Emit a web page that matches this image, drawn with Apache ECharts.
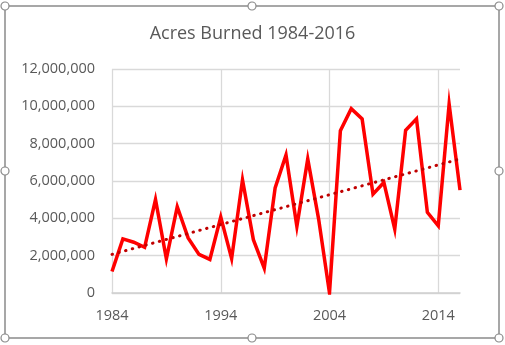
<!DOCTYPE html>
<html>
<head>
<meta charset="utf-8">
<script src="https://cdn.jsdelivr.net/npm/echarts@6/dist/echarts.min.js"></script>
<style>
html,body{margin:0;padding:0;background:#fff;}
#chart{width:505px;height:345px;}
</style>
</head>
<body>
<div id="chart"></div>
<script>
const years = ['1984','1985','1986','1987','1988','1989','1990','1991','1992','1993','1994','1995','1996','1997','1998','1999','2000','2001','2002','2003','2004','2005','2006','2007','2008','2009','2010','2011','2012','2013','2014','2015','2016'];
const acresBurned = [1148409,2896147,2719162,2447296,5009290,1827310,4621621,2953578,2069929,1797574,4073579,1840546,6065998,2856959,1329704,5626093,7393493,3570911,7184712,3960842,0,8689389,9873745,9328045,5292468,5921786,3422724,8711367,9326238,4319546,3595613,10125149,5509995];
const trendYears = ['1984','2016'];
const trendValues = [2070000, 7180000];
const yTicks = [0,2000000,4000000,6000000,8000000,10000000,12000000];

const chart = echarts.init(document.getElementById('chart'));
const fontFamily = '"Open Sans", sans-serif';
chart.setOption({
  animation:false,
  backgroundColor:'#fff',
  title:{
    text:'Acres Burned 1984-2016',
    left:'center', top:20,
    textStyle:{fontFamily, fontSize:18, fontWeight:'normal', color:'#595959'}
  },
  grid:{left:112, right:45, top:69, bottom:52, containLabel:false},
  xAxis:{
    type:'category',
    data:years,
    boundaryGap:false,
    axisLine:{show:true, lineStyle:{color:'#D0D0D0', width:1.5}},
    axisTick:{show:false},
    axisLabel:{interval:9, fontFamily, fontSize:14.5, color:'#595959', margin:15},
    splitLine:{show:true, interval:9, lineStyle:{color:'#D9D9D9', width:1.3}}
  },
  yAxis:{
    type:'value',
    min:yTicks[0], max:yTicks[yTicks.length-1], interval:2000000,
    axisLine:{show:false},
    axisTick:{show:false},
    axisLabel:{fontFamily, fontSize:14.5, color:'#595959', margin:17,
      formatter:v=>v.toLocaleString('en-US')},
    splitLine:{lineStyle:{color:'#D9D9D9', width:1.3}}
  },
  series:[
    {
      type:'line',
      data:acresBurned,
      symbol:'none',
      lineStyle:{color:'#FF0000', width:3.5, join:'miter'},
      z:3
    },
    {
      type:'line',
      data:trendYears.map((y,i)=>[y,trendValues[i]]),
      symbol:'none',
      lineStyle:{color:'#C00000', width:3, type:[0.5,6.5], cap:'round'},
      z:4
    }
  ],
  graphic:[
    {type:'rect', shape:{x:5,y:6,width:494,height:332}, style:{fill:'none', stroke:'#8a8a8a', lineWidth:1.5}, z:10},
    ...[[5,6],[252,6],[499,6],[5,171],[499,171],[5,338],[252,338],[499,338]].map(p=>({
      type:'circle', shape:{cx:p[0], cy:p[1], r:4}, style:{fill:'#fff', stroke:'#8a8a8a', lineWidth:1.2}, z:11
    }))
  ]
});
</script>
</body>
</html>
